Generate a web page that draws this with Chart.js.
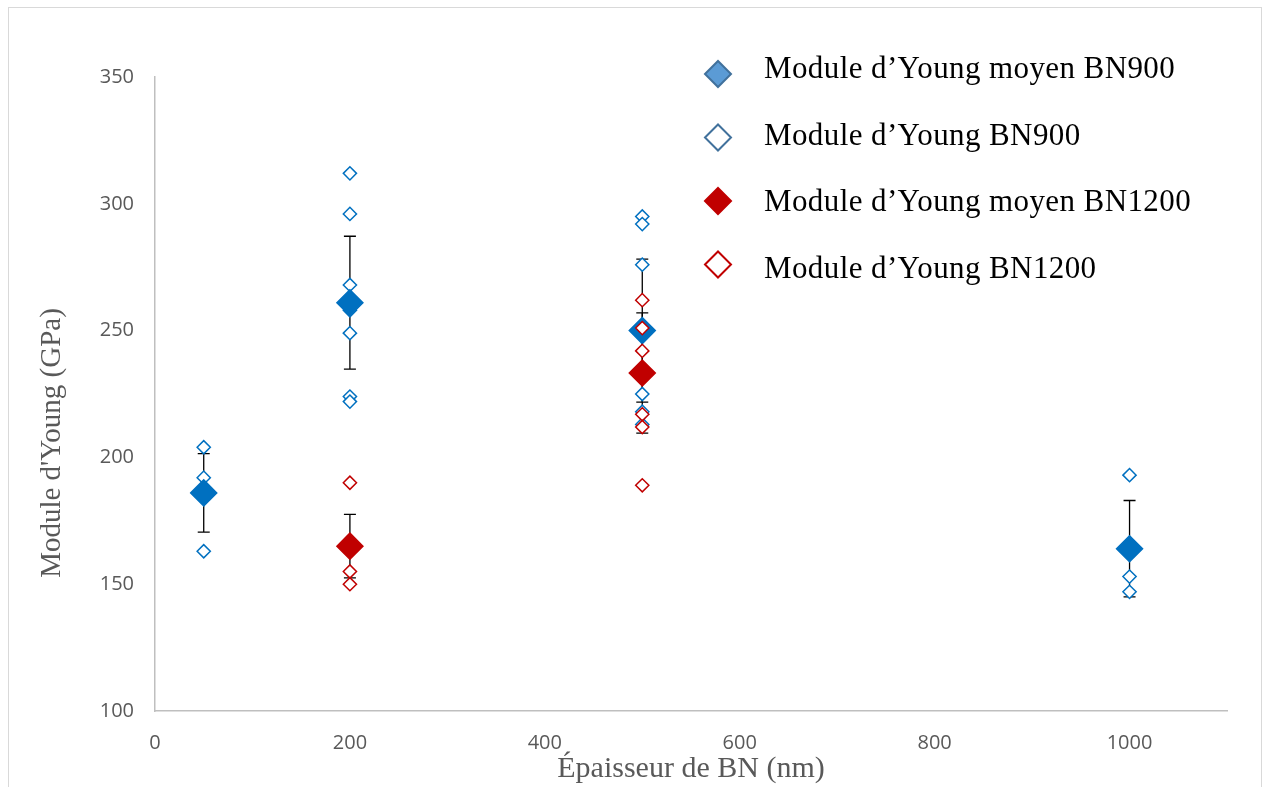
<!DOCTYPE html>
<html>
<head>
<meta charset="utf-8">
<script src="https://cdn.jsdelivr.net/npm/chart.js@4.4.1/dist/chart.umd.min.js"></script>
<style>
    html, body { margin: 0; padding: 0; background: #fff; overflow: hidden; }
    #wrap { position: relative; width: 1268px; height: 787px; }
    #frame {
        position: absolute; left: 8px; top: 7px; width: 1254px; height: 800px;
        border: 1px solid #d9d9d9; box-sizing: border-box; pointer-events: none;
    }
    canvas { position: absolute; left: 0; top: 0; }
</style>
</head>
<body>
<div id="wrap">
    <canvas id="youngChart" width="1268" height="787"></canvas>
    <div id="frame"></div>
</div>
<script>
// Mean values (GPa) and error bars
const meanX900 = [50, 200, 500, 1000];
const meanY900 = [186, 261, 250, 164];
const errY900 = [15.5, 26.2, 28.2, 19];

const meanX1200 = [200, 500];
const meanY1200 = [165, 233.3];
const errY1200 = [12.5, 23.7];

// Individual measurements (GPa)
const ptsX900 = [50, 50, 50,
    200, 200, 200, 200, 200, 200, 200,
    500, 500, 500, 500, 500, 500, 500,
    1000, 1000, 1000];
const ptsY900 = [204, 192, 163,
    312, 296, 268, 258, 249, 224, 222,
    295, 292, 276, 232, 225, 218, 213,
    193, 153, 147];

const ptsX1200 = [200, 200, 200, 500, 500, 500, 500, 500, 500];
const ptsY1200 = [190, 155, 150, 262, 251, 242, 217, 212, 189];

const xTicks = [0, 200, 400, 600, 800, 1000];
const yTicks = [100, 150, 200, 250, 300, 350];

const seriesLabels = [
    'Module d\u2019Young moyen BN900',
    'Module d\u2019Young BN900',
    'Module d\u2019Young moyen BN1200',
    'Module d\u2019Young BN1200'
];

const toPoints = (xs, ys) => xs.map((x, i) => ({ x: x, y: ys[i] }));

// Error bars, drawn under the markers
const errorBarsPlugin = {
    id: 'errorBars',
    beforeDatasetsDraw(chart) {
        const { ctx, scales } = chart;
        ctx.save();
        ctx.strokeStyle = '#000';
        ctx.lineWidth = 1.3;
        chart.data.datasets.forEach(ds => {
            if (!ds.errorBars) return;
            ds.data.forEach((p, i) => {
                const e = ds.errorBars[i];
                const px = scales.x.getPixelForValue(p.x);
                const top = scales.y.getPixelForValue(p.y + e);
                const bot = scales.y.getPixelForValue(p.y - e);
                ctx.beginPath();
                ctx.moveTo(px, top);
                ctx.lineTo(px, bot);
                ctx.moveTo(px - 6, top);
                ctx.lineTo(px + 6, top);
                ctx.moveTo(px - 6, bot);
                ctx.lineTo(px + 6, bot);
                ctx.stroke();
            });
        });
        ctx.restore();
    }
};

// Legend in the upper right, inside the plot
const sideLegendPlugin = {
    id: 'sideLegend',
    afterDraw(chart, args, opts) {
        const ctx = chart.ctx;
        ctx.save();
        chart.data.datasets.forEach((ds, i) => {
            const my = opts.markerY + i * opts.markerStep;
            const ty = opts.textY + i * opts.textStep;
            const r = opts.radius;
            ctx.beginPath();
            ctx.moveTo(opts.markerX - r, my);
            ctx.lineTo(opts.markerX, my - r);
            ctx.lineTo(opts.markerX + r, my);
            ctx.lineTo(opts.markerX, my + r);
            ctx.closePath();
            ctx.fillStyle = ds.legendFill;
            ctx.fill();
            ctx.lineWidth = 2;
            ctx.strokeStyle = ds.legendBorder;
            ctx.stroke();
            ctx.fillStyle = '#000';
            ctx.font = opts.font;
            ctx.letterSpacing = opts.letterSpacing;
            ctx.textBaseline = 'alphabetic';
            ctx.textAlign = 'left';
            ctx.fillText(ds.label, opts.textX, ty);
        });
        ctx.restore();
    }
};

// Vertical axis title (sits lower than the axis centre in the original)
const yTitlePlugin = {
    id: 'yTitle',
    afterDraw(chart, args, opts) {
        const ctx = chart.ctx;
        ctx.save();
        ctx.translate(opts.x, opts.y);
        ctx.rotate(-Math.PI / 2);
        ctx.font = opts.font;
        ctx.fillStyle = opts.color;
        ctx.textAlign = 'center';
        ctx.textBaseline = 'middle';
        ctx.fillText(opts.text, 0, 0);
        ctx.restore();
    }
};

const tickFont = { family: '"Open Sans", "Liberation Sans", sans-serif', size: 20 };
const titleFont = { family: '"Liberation Serif", "DejaVu Serif", serif', size: 30 };

new Chart(document.getElementById('youngChart'), {
    type: 'scatter',
    data: {
        datasets: [
            {
                label: seriesLabels[0],
                data: toPoints(meanX900, meanY900),
                errorBars: errY900,
                pointStyle: 'rectRot',
                pointRadius: 13,
                borderWidth: 1.5,
                backgroundColor: '#0070c0',
                borderColor: '#0070c0',
                legendFill: '#5b9bd5',
                legendBorder: '#41719c',
                order: 3
            },
            {
                label: seriesLabels[1],
                data: toPoints(ptsX900, ptsY900),
                pointStyle: 'rectRot',
                pointRadius: 6.6,
                borderWidth: 1.5,
                backgroundColor: '#ffffff',
                borderColor: '#0070c0',
                legendFill: '#ffffff',
                legendBorder: '#41719c',
                order: 4
            },
            {
                label: seriesLabels[2],
                data: toPoints(meanX1200, meanY1200),
                errorBars: errY1200,
                pointStyle: 'rectRot',
                pointRadius: 13,
                borderWidth: 1.5,
                backgroundColor: '#c00000',
                borderColor: '#c00000',
                legendFill: '#c00000',
                legendBorder: '#c00000',
                order: 2
            },
            {
                label: seriesLabels[3],
                data: toPoints(ptsX1200, ptsY1200),
                pointStyle: 'rectRot',
                pointRadius: 6.6,
                borderWidth: 1.5,
                backgroundColor: '#ffffff',
                borderColor: '#c00000',
                legendFill: '#ffffff',
                legendBorder: '#c00000',
                order: 1
            }
        ]
    },
    options: {
        responsive: false,
        animation: false,
        devicePixelRatio: 1,
        layout: { padding: { top: 77, right: 41, left: 0, bottom: 0 } },
        scales: {
            x: {
                type: 'linear',
                min: 0,
                max: 1100,
                grid: { display: false, drawTicks: false },
                border: { color: '#bfbfbf', width: 1.5 },
                ticks: {
                    font: tickFont,
                    color: '#595959',
                    padding: 20,
                    callback: v => String(v)
                },
                afterBuildTicks: s => { s.ticks = xTicks.map(v => ({ value: v })); },
                afterFit: s => { s.height = 76; },
                title: {
                    display: true,
                    text: '\u00c9paisseur de BN (nm)',
                    font: titleFont,
                    color: '#595959',
                    padding: { top: 0, bottom: 0 }
                }
            },
            y: {
                type: 'linear',
                min: 100,
                max: 350,
                grid: { display: false, drawTicks: false },
                border: { color: '#bfbfbf', width: 1.5 },
                ticks: { font: tickFont, color: '#595959', padding: 21 },
                afterBuildTicks: s => { s.ticks = yTicks.map(v => ({ value: v })); },
                afterFit: s => { s.width = 155; }
            }
        },
        plugins: {
            legend: { display: false },
            tooltip: { enabled: false },
            sideLegend: {
                markerX: 718,
                markerY: 74,
                markerStep: 63.5,
                textX: 764,
                textY: 78,
                textStep: 66.5,
                radius: 13,
                font: '31px "Liberation Serif", serif',
                letterSpacing: '0.4px'
            },
            yTitle: {
                x: 52,
                y: 443,
                text: 'Module d\'Young (GPa)',
                font: '29px "Liberation Serif", serif',
                color: '#595959'
            }
        }
    },
    plugins: [errorBarsPlugin, sideLegendPlugin, yTitlePlugin]
});
</script>
</body>
</html>
